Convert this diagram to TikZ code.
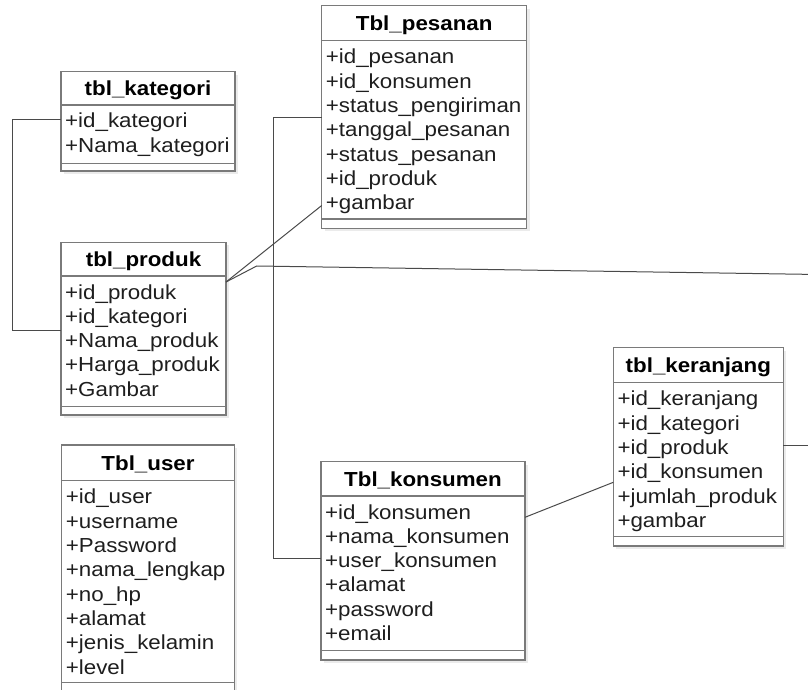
\documentclass[tikz,border=0pt]{standalone}
\usepackage{fontspec}
\setmainfont{Liberation Sans}[FakeStretch=1.1]
\definecolor{boxc}{HTML}{7A7A7A}
\definecolor{linec}{HTML}{4A4A4A}
\definecolor{shadowc}{HTML}{EBEBEB}
\definecolor{txtc}{HTML}{1E1E1E}
\tikzset{
  tbox/.style={draw=boxc, fill=white, line width=1.2pt, inner sep=0pt, outer sep=0pt},
  sepline/.style={draw=boxc, line width=1.2pt},
  shadowfill/.style={fill=shadowc},
  titletext/.style={anchor=base, inner sep=0pt, text=black, font=\fontsize{20.3}{24}\selectfont\bfseries},
  rowtext/.style={anchor=base west, inner sep=0pt, text=txtc, font=\fontsize{20.3}{24}\selectfont},
  conn/.style={draw=linec, line width=1pt},
}
% #1 name, #2 left, #3 top, #4 right, #5 bottom, #6 title rule, #7 lower rule, #8 title, #9 rows
\newcommand\ertable[9]{%
  \fill[shadowfill] ({#2+3},{#3+3}) rectangle ({#4+3},{#5+3});
  \node[tbox, minimum width={(#4-#2)*1pt}, minimum height={(#5-#3)*1pt}, anchor=north west] (#1) at (#2,#3) {};
  \draw[sepline] (#2,#6) -- (#4,#6) (#2,#7) -- (#4,#7);
  \node[titletext] (#1-title) at ({(#2+#4)/2},{#6-9.8}) {#8};
  \foreach \r [count=\i] in {#9} {\node[rowtext] (#1-\i) at ({#2+4},{#6+23+(\i-1)*24.33}) {\r};}
}
\begin{document}
\begin{tikzpicture}[x=1pt, y=-1pt]
\useasboundingbox (0,0) rectangle (808,690);

% tables
\ertable{kategori}{61}{71.7}{235}{171}{105}{163.3}{tbl\_kategori}{+id\_kategori,+Nama\_kategori}
\ertable{produk}{61}{242.3}{226}{415}{276}{406.7}{tbl\_produk}{+id\_produk,+id\_kategori,+Nama\_produk,+Harga\_produk,+Gambar}
\ertable{pesanan}{321.7}{5.7}{526.7}{228.3}{40.7}{219}{Tbl\_pesanan}{+id\_pesanan,+id\_konsumen,+status\_pengiriman,+tanggal\_pesanan,+status\_pesanan,+id\_produk,+gambar}
\ertable{user}{61.7}{445}{234.3}{705}{480.7}{682.7}{Tbl\_user}{+id\_user,+username,+Password,+nama\_lengkap,+no\_hp,+alamat,+jenis\_kelamin,+level}
\ertable{konsumen}{321}{461.7}{525}{660}{496}{650.7}{Tbl\_konsumen}{+id\_konsumen,+nama\_konsumen,+user\_konsumen,+alamat,+password,+email}
\ertable{keranjang}{613.3}{347.7}{783.3}{546}{382.7}{536.7}{tbl\_keranjang}{+id\_keranjang,+id\_kategori,+id\_produk,+id\_konsumen,+jumlah\_produk,+gambar}

% bend points and loose ends of the connectors
\coordinate (k1) at (12.7,120);
\coordinate (k2) at (12.7,330.7);
\coordinate (p1) at (273.3,117.7);
\coordinate (p2) at (273.3,558.3);
\coordinate (yprod) at (0,282);
\coordinate (ypes) at (0,205.5);
\coordinate (b1) at (256.7,266);
\coordinate (e1) at (812,274.4);
\coordinate (ykon) at (0,517.3);
\coordinate (yker) at (0,482.3);
\coordinate (yker2) at (0,445);
\coordinate (e2) at (812,445);

% connectors
\draw[conn] (kategori.west |- k1) -- (k1) -- (k2) -- (produk.west |- k2);
\draw[conn] (pesanan.west |- p1) -- (p1) -- (p2) -- (konsumen.west |- p2);
\draw[conn] (produk.east |- yprod) -- (pesanan.west |- ypes);
\draw[conn] (produk.east |- yprod) -- (b1) -- (e1);
\draw[conn] (konsumen.east |- ykon) -- (keranjang.west |- yker);
\draw[conn] (keranjang.east |- yker2) -- (e2);
\end{tikzpicture}
\end{document}
